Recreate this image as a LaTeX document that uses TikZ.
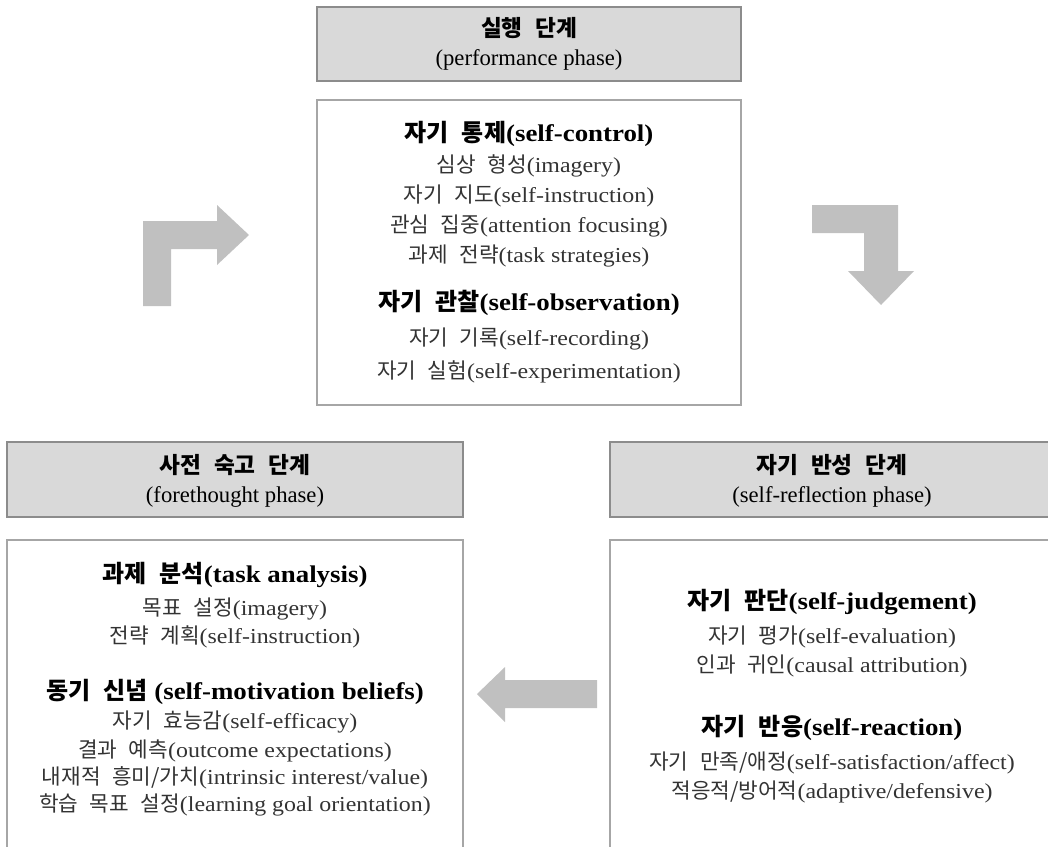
\documentclass[tikz,border=0pt]{standalone}
\usepackage{fontspec}
\setmainfont{Liberation Serif}
\newfontfamily\itemfont[FakeStretch=1.12]{Liberation Serif}
\newfontfamily\krfont[WordSpace=2.4]{Noto Sans CJK KR}
\newcommand{\kor}[1]{{\krfont #1}}

\definecolor{headfill}{HTML}{D9D9D9}
\definecolor{headline}{HTML}{8C8C8C}
\definecolor{boxline}{HTML}{A6A6A6}
\definecolor{arrowfill}{HTML}{C0C0C0}
\definecolor{itemtext}{HTML}{333333}

\tikzset{
  headbox/.style={fill=headfill, draw=headline, line width=1.6},
  itembox/.style={draw=boxline, line width=1.4},
  bentarrow/.style={fill=arrowfill, draw=none},
  headkor/.style={font=\fontsize{17}{20}\selectfont\bfseries, inner sep=0pt},
  headtext/.style={font=\fontsize{17}{20}\selectfont, inner sep=0pt},
  titletext/.style={font=\fontsize{18}{21}\selectfont\itemfont\bfseries, inner sep=0pt},
  itemline/.style={font=\fontsize{16}{19}\selectfont\itemfont, text=itemtext, inner sep=0pt},
}

\begin{document}
\begin{tikzpicture}[x=0.75pt, y=-0.75pt]

    % Fix the page to the size of the reference
    \useasboundingbox (0,0) rectangle (1048,846);

    % Corners of the three phase boxes
    \coordinate (PH1) at (317,7);
    \coordinate (PH2) at (741,81);
    \coordinate (PB1) at (317,100);
    \coordinate (PB2) at (741,405);
    \coordinate (FH1) at (7,442);
    \coordinate (FH2) at (463,517);
    \coordinate (RH1) at (610,442);
    \coordinate (RH2) at (1060,517);

    % Performance phase: header and content box
    \draw[headbox] (PH1) rectangle (PH2);
    \draw[itembox] (PB1) rectangle (PB2);

    \node[headkor] (perfkr) at (529,28) {\kor{실행 단계}};
    \node[headtext] (perfen) at (529,60) {(performance phase)};

    \node[titletext] (ctrl) at (529,134) {\kor{자기 통제}(self-control)};
    \node[itemline] (imag) at (529,166) {\kor{심상 형성}(imagery)};
    \node[itemline] (inst) at (529,196) {\kor{자기 지도}(self-instruction)};
    \node[itemline] (attn) at (529,226) {\kor{관심 집중}(attention focusing)};
    \node[itemline] (strat) at (529,256) {\kor{과제 전략}(task strategies)};

    \node[titletext] (obsv) at (529,303) {\kor{자기 관찰}(self-observation)};
    \node[itemline] (recd) at (529,339) {\kor{자기 기록}(self-recording)};
    \node[itemline] (expm) at (529,372) {\kor{자기 실험}(self-experimentation)};

    % Forethought phase: header, then a box that runs off the bottom
    \draw[headbox] (FH1) rectangle (FH2);
    \draw[itembox] (7,860) -- (7,540) -- (463,540) -- (463,860);

    \node[headkor] (forekr) at (235,465) {\kor{사전 숙고 단계}};
    \node[headtext] (foreen) at (235,497) {(forethought phase)};

    \node[titletext] (task) at (235,575) {\kor{과제 분석}(task analysis)};
    \node[itemline] (goal) at (235,609) {\kor{목표 설정}(imagery)};
    \node[itemline] (plan) at (235,637) {\kor{전략 계획}(self-instruction)};

    \node[titletext] (motiv) at (235,692) {\kor{동기 신념} (self-motivation beliefs)};
    \node[itemline] (effic) at (235,722) {\kor{자기 효능감}(self-efficacy)};
    \node[itemline] (outc) at (235,751) {\kor{결과 예측}(outcome expectations)};
    \node[itemline] (intr) at (235,778) {\kor{내재적 흥미/가치}(intrinsic interest/value)};
    \node[itemline] (lgoal) at (235,805) {\kor{학습 목표 설정}(learning goal orientation)};

    % Self-reflection phase: runs off the right and bottom edges
    \draw[headbox] (RH1) rectangle (RH2);
    \draw[itembox] (610,860) -- (610,540) -- (1060,540);

    \node[headkor] (reflkr) at (832,465) {\kor{자기 반성 단계}};
    \node[headtext] (reflen) at (832,497) {(self-reflection phase)};

    \node[titletext] (judg) at (832,602) {\kor{자기 판단}(self-judgement)};
    \node[itemline] (eval) at (832,637) {\kor{자기 평가}(self-evaluation)};
    \node[itemline] (attr) at (832,666) {\kor{인과 귀인}(causal attribution)};

    \node[titletext] (react) at (832,728) {\kor{자기 반응}(self-reaction)};
    \node[itemline] (satis) at (832,763) {\kor{자기 만족/애정}(self-satisfaction/affect)};
    \node[itemline] (adapt) at (832,792) {\kor{적응적/방어적}(adaptive/defensive)};

    % Block arrow: up and then right, into the performance phase
    \fill[bentarrow] (143,306) -- (143,221) -- (217,221) -- (217,205) -- (249,235)
        -- (217,265) -- (217,249) -- (171,249) -- (171,306) -- cycle;

    % Block arrow: right and then down, into the self-reflection phase
    \fill[bentarrow] (812,205) -- (898,205) -- (898,271) -- (914,271) -- (881,305)
        -- (848,271) -- (864,271) -- (864,233) -- (812,233) -- cycle;

    % Block arrow pointing left, back to the forethought phase
    \fill[bentarrow] (597,680) -- (505,680) -- (505,667) -- (477,694)
        -- (505,722) -- (505,708) -- (597,708) -- cycle;

\end{tikzpicture}
\end{document}
